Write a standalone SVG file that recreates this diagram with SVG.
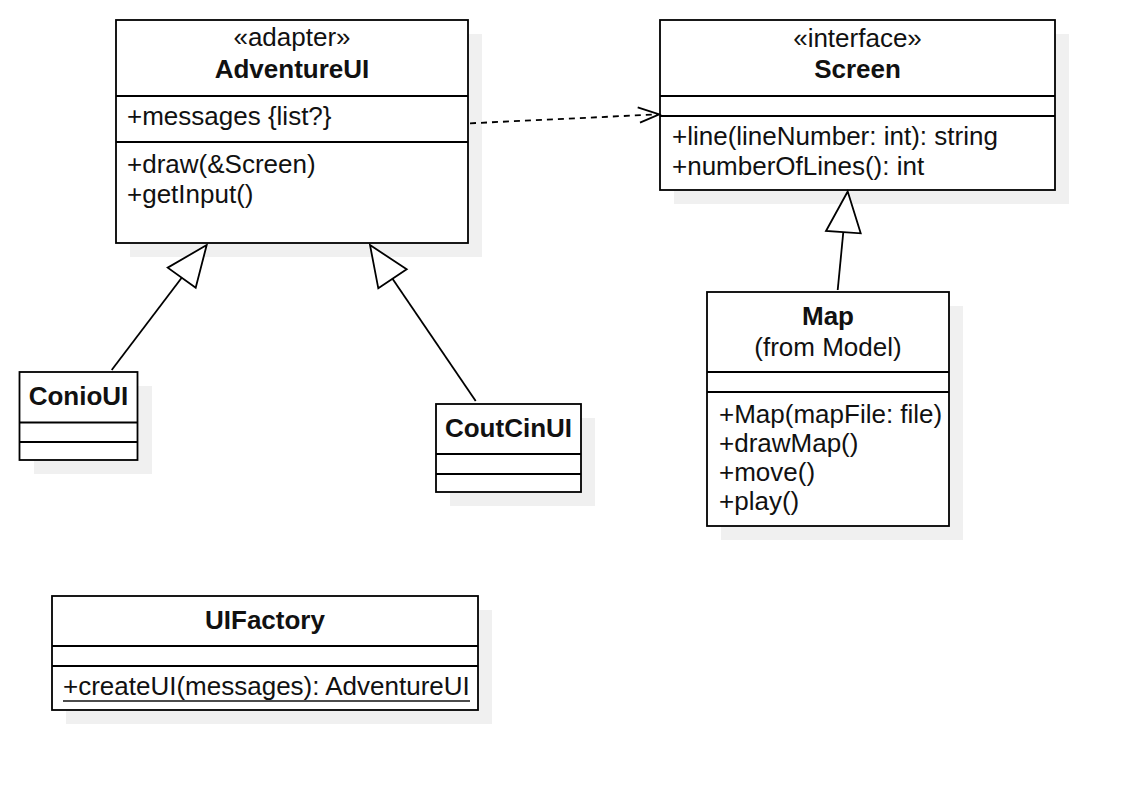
<svg xmlns="http://www.w3.org/2000/svg" width="1134" height="790" viewBox="0 0 1134 790">
<style>
.box{fill:#ffffff;stroke:#000000;stroke-width:1.8}
.sh{fill:#f0f0f0;stroke:none}
.div{stroke:#000000;stroke-width:1.8;fill:none}
.t{font-family:"Liberation Sans",Arial,sans-serif;font-size:26px;fill:#111111}
.b{font-weight:bold}
.c{text-anchor:middle}
.edge{stroke:#000000;stroke-width:1.8;fill:none}
.tri{fill:#ffffff;stroke:#000000;stroke-width:1.8;stroke-linejoin:miter}
</style>
<rect width="1134" height="790" fill="#ffffff"/>

<g id="AdventureUI">
<rect class="sh" x="130" y="34" width="352" height="223"/>
<rect class="box" x="116" y="20" width="352" height="223"/>
<line class="div" x1="116" y1="96" x2="468" y2="96"/>
<line class="div" x1="116" y1="142" x2="468" y2="142"/>
<text class="t c" x="292" y="46">«adapter»</text>
<text class="t c b" x="292" y="78">AdventureUI</text>
<text class="t" x="127" y="125">+messages {list?}</text>
<text class="t" x="127" y="173">+draw(&amp;Screen)</text>
<text class="t" x="127" y="203">+getInput()</text>
</g>

<g id="Screen">
<rect class="sh" x="674" y="34" width="395" height="170"/>
<rect class="box" x="660" y="20" width="395" height="170"/>
<line class="div" x1="660" y1="96" x2="1055" y2="96"/>
<line class="div" x1="660" y1="116" x2="1055" y2="116"/>
<text class="t c" x="857.5" y="47">«interface»</text>
<text class="t c b" x="857.5" y="78">Screen</text>
<text class="t" x="672" y="145">+line(lineNumber: int): string</text>
<text class="t" x="672" y="175">+numberOfLines(): int</text>
</g>

<g id="Map">
<rect class="sh" x="721" y="306" width="242" height="234"/>
<rect class="box" x="707" y="292" width="242" height="234"/>
<line class="div" x1="707" y1="372" x2="949" y2="372"/>
<line class="div" x1="707" y1="392" x2="949" y2="392"/>
<text class="t c b" x="828" y="325">Map</text>
<text class="t c" x="828" y="356">(from Model)</text>
<text class="t" x="719" y="423">+Map(mapFile: file)</text>
<text class="t" x="719" y="452">+drawMap()</text>
<text class="t" x="719" y="481">+move()</text>
<text class="t" x="719" y="510">+play()</text>
</g>

<g id="ConioUI">
<rect class="sh" x="34" y="386" width="118" height="88"/>
<rect class="box" x="19.5" y="372" width="118" height="88"/>
<line class="div" x1="19.5" y1="422.5" x2="137.5" y2="422.5"/>
<line class="div" x1="19.5" y1="442" x2="137.5" y2="442"/>
<text class="t c b" x="78.5" y="404.5">ConioUI</text>
</g>

<g id="CoutCinUI">
<rect class="sh" x="450" y="418" width="145" height="88"/>
<rect class="box" x="436" y="404" width="145" height="88"/>
<line class="div" x1="436" y1="454" x2="581" y2="454"/>
<line class="div" x1="436" y1="474" x2="581" y2="474"/>
<text class="t c b" x="508.5" y="436.5">CoutCinUI</text>
</g>

<g id="UIFactory">
<rect class="sh" x="66" y="610" width="426" height="114"/>
<rect class="box" x="52" y="596" width="426" height="114"/>
<line class="div" x1="52" y1="646" x2="478" y2="646"/>
<line class="div" x1="52" y1="666" x2="478" y2="666"/>
<text class="t c b" x="265" y="629">UIFactory</text>
<text class="t" x="63" y="695">+createUI(messages): AdventureUI</text>
<line x1="63" y1="701" x2="470" y2="701" stroke="#111111" stroke-width="1.6"/>
</g>

<g id="connectors">
<line class="edge" x1="111.7" y1="370" x2="181.7" y2="277.7"/>
<polygon class="tri" points="206.7,245 167.7,267.7 195.7,287.7"/>
<line class="edge" x1="475.7" y1="401" x2="392.5" y2="278.8"/>
<polygon class="tri" points="370,245 406.7,269.3 378.3,288.3"/>
<line class="edge" x1="837.7" y1="290" x2="843.3" y2="232.2"/>
<polygon class="tri" points="847.7,191.5 826,231 860.7,233.3"/>
<line class="edge" x1="470" y1="123.3" x2="657" y2="114.4" stroke-dasharray="6 5"/>
<polyline class="edge" points="637.7,107.3 659.3,114.3 640,122.7"/>
</g>
</svg>
